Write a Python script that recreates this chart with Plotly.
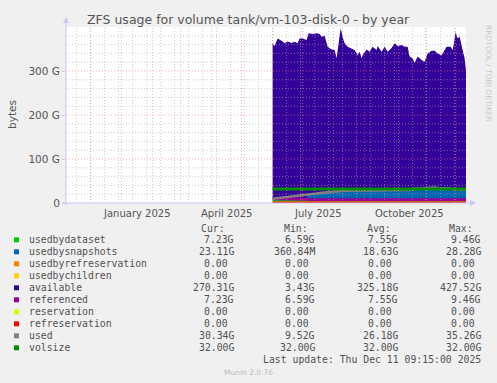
import plotly.graph_objects as go
import pandas as pd

# ---------------- data (values in G) ----------------
dates = ["2025-06-01", "2025-06-03", "2025-06-06", "2025-06-10", "2025-06-13", "2025-06-16",
         "2025-06-20", "2025-06-23", "2025-06-26", "2025-06-28", "2025-07-01", "2025-07-05",
         "2025-07-07", "2025-07-11", "2025-07-15", "2025-07-18", "2025-07-20", "2025-07-23",
         "2025-07-26", "2025-07-30", "2025-08-02", "2025-08-04", "2025-08-06", "2025-08-08",
         "2025-08-10", "2025-08-12", "2025-08-15", "2025-08-19", "2025-08-22", "2025-08-25",
         "2025-08-27", "2025-08-29", "2025-08-30", "2025-09-03", "2025-09-06", "2025-09-09",
         "2025-09-13", "2025-09-14", "2025-09-18", "2025-09-21", "2025-09-24", "2025-09-28",
         "2025-10-01", "2025-10-04", "2025-10-08", "2025-10-11", "2025-10-14", "2025-10-16",
         "2025-10-19", "2025-10-21", "2025-10-24", "2025-10-28", "2025-10-31", "2025-11-03",
         "2025-11-07", "2025-11-10", "2025-11-13", "2025-11-17", "2025-11-22", "2025-11-26",
         "2025-11-28", "2025-11-29", "2025-12-01", "2025-12-03", "2025-12-05", "2025-12-08",
         "2025-12-10", "2025-12-11 09:15"]

usedbydataset = [9.4, 9.4, 9.3, 9.3, 9.2, 9.2, 9.1, 9.0, 9.0, 8.9, 8.8, 8.7,
                 7.5, 7.5, 7.5, 7.5, 7.5, 7.5, 7.5, 7.5, 7.5, 7.5, 7.5, 7.5,
                 7.5, 7.5, 7.5, 7.5, 7.5, 7.5, 7.5, 7.5, 7.5, 7.5, 7.5, 7.5,
                 7.5, 7.5, 7.5, 7.5, 7.5, 7.5, 7.5, 7.5, 7.5, 7.5, 7.5, 7.5,
                 7.5, 7.5, 7.5, 7.5, 7.5, 7.5, 7.5, 7.5, 7.5, 7.5, 7.5, 7.5,
                 7.5, 7.5, 7.3, 7.3, 7.2, 7.2, 7.2, 7.23]

usedbysnapshots = [0.4, 0.4, 0.5, 0.5, 0.6, 0.6, 0.7, 0.7, 0.8, 0.8, 0.9, 0.9,
                   12, 13, 14, 15, 15.5, 16.5, 17.5, 18.5, 19, 19.5, 19.5, 20,
                   20, 20.5, 20.5, 20.5, 20.5, 20.5, 20.5, 20.5, 20.5, 21, 21, 21,
                   21, 21, 21, 21, 21, 21.5, 21.5, 21.5, 21.5, 21.5, 21.5, 22,
                   22.5, 25.5, 25.5, 26, 26, 26.5, 27.5, 28, 26.5, 26, 25.5, 25.5,
                   23.5, 23.5, 23, 23, 23, 23, 23.1, 23.11]

usedbyrefreservation = [0.0] * 68
usedbychildren = [0.0] * 68

available = [353, 347, 364, 359, 353, 357, 354, 357, 353, 364, 364, 361,
             366.5, 363.5, 364.5, 361.5, 355, 356, 330, 323, 321.5, 302, 336, 369.5,
             350.5, 335, 327, 324, 320, 308, 316, 301, 308, 320.5, 315.5, 326.5,
             319.5, 328.5, 315.5, 326.5, 315.5, 323, 334, 328, 330, 326, 326, 303.5,
             299, 285, 300, 291.5, 287.5, 306, 311, 310.5, 306, 302.5, 322, 322,
             317, 328, 358.5, 343.5, 347.5, 317.5, 298.4, 270.31]

referenced = [9.4, 9.4, 9.3, 9.3, 9.2, 9.2, 9.1, 9.0, 9.0, 8.9, 8.8, 8.7,
              7.5, 7.5, 7.5, 7.5, 7.5, 7.5, 7.5, 7.5, 7.5, 7.5, 7.5, 7.5,
              7.5, 7.5, 7.5, 7.5, 7.5, 7.5, 7.5, 7.5, 7.5, 7.5, 7.5, 7.5,
              7.5, 7.5, 7.5, 7.5, 7.5, 7.5, 7.5, 7.5, 7.5, 7.5, 7.5, 7.5,
              7.5, 7.5, 7.5, 7.5, 7.5, 7.5, 7.5, 7.5, 7.5, 7.5, 7.5, 7.5,
              7.5, 7.5, 7.3, 7.3, 7.2, 7.2, 7.2, 7.23]

reservation = [0.0] * 68
refreservation = [0.0] * 68

used = [9.5, 10, 10.5, 11.5, 12, 13, 14, 15, 16, 16.5, 17.5, 18.5,
        19.5, 20.5, 21.5, 22.5, 23, 24, 25, 26, 26.5, 27, 27, 27.5,
        27.5, 28, 28, 28, 28, 28, 28, 28, 28, 28.5, 28.5, 28.5,
        28.5, 28.5, 28.5, 28.5, 28.5, 29, 29, 29, 29, 29, 29, 29.5,
        30, 33, 33, 33.5, 33.5, 34, 35, 35.3, 34, 33.5, 33, 33,
        31, 31, 30.5, 30.5, 30.5, 30.3, 30.3, 30.34]

volsize = [32.0] * 68

y_tick_vals = [0, 100, 200, 300]
y_tick_text = ["0", "100 G", "200 G", "300 G"]
x_label_dates = ["2025-01-16", "2025-04-16", "2025-07-16", "2025-10-16"]
x_label_text = ["January 2025", "April 2025", "July 2025", "October 2025"]

legend_names = ["usedbydataset", "usedbysnapshots", "usedbyrefreservation", "usedbychildren",
                "available", "referenced", "reservation", "refreservation", "used", "volsize"]
legend_colors = ["#00CC00", "#0066B3", "#FF8000", "#FFCC00", "#330099",
                 "#990099", "#CCFF00", "#FF0000", "#808080", "#008F00"]
leg_cur = ["7.23G", "23.11G", "0.00", "0.00", "270.31G", "7.23G", "0.00", "0.00", "30.34G", "32.00G"]
leg_min = ["6.59G", "360.84M", "0.00", "0.00", "3.43G", "6.59G", "0.00", "0.00", "9.52G", "32.00G"]
leg_avg = ["7.55G", "18.63G", "0.00", "0.00", "325.18G", "7.55G", "0.00", "0.00", "26.18G", "32.00G"]
leg_max = ["9.46G", "28.28G", "0.00", "0.00", "427.52G", "9.46G", "0.00", "0.00", "35.26G", "32.00G"]

# ---------------- geometry helpers ----------------
W, H = 497, 383
L, R, T, B = 66, 466, 27, 203
x_start = pd.Timestamp("2024-11-06 09:15")
x_end = pd.Timestamp("2025-12-11 09:15")


def px(xpix):
    return (xpix - L) / (R - L)


def py(ypix):
    return (B - ypix) / (B - T)


fig = go.Figure()

# stacked areas
for name, vals, col in [("usedbydataset", usedbydataset, "#00CC00"),
                        ("usedbysnapshots", usedbysnapshots, "#0066B3"),
                        ("usedbyrefreservation", usedbyrefreservation, "#FF8000"),
                        ("usedbychildren", usedbychildren, "#FFCC00"),
                        ("available", available, "#330099")]:
    fig.add_trace(go.Scatter(x=dates, y=vals, name=name, mode="lines", stackgroup="s",
                             line=dict(width=0, color=col), fillcolor=col, hoverinfo="skip"))

# lines
for name, vals, col, w in [("referenced", referenced, "#990099", 3),
                           ("reservation", reservation, "#CCFF00", 3),
                           ("refreservation", refreservation, "#FF0000", 3),
                           ("used", used, "#808080", 2.5),
                           ("volsize", volsize, "#008F00", 3)]:
    fig.add_trace(go.Scatter(x=dates, y=vals, name=name, mode="lines",
                             line=dict(width=w, color=col), hoverinfo="skip"))

shapes = []
gray = "rgba(170,170,170,0.6)"
red = "rgba(255,110,110,0.55)"
# horizontal grid
for v in range(20, 400, 20):
    shapes.append(dict(type="line", xref="paper", yref="y", x0=0, x1=1, y0=v, y1=v,
                       line=dict(color=red if v % 100 == 0 else gray, width=1, dash="1px,2px"),
                       layer="above"))
# vertical grid: biweekly minor, monthly major
for d in pd.date_range("2024-11-17", "2025-12-11", freq="14D"):
    shapes.append(dict(type="line", xref="x", yref="paper", x0=d, x1=d, y0=0, y1=1,
                       line=dict(color=gray, width=1, dash="1px,2px"), layer="above"))
for d in pd.date_range("2024-12-01", "2025-12-01", freq="MS"):
    shapes.append(dict(type="line", xref="x", yref="paper", x0=d, x1=d, y0=0, y1=1,
                       line=dict(color=red, width=1, dash="1px,2px"), layer="above"))

axis_col = "#C8C8F0"
# axes lines with arrows
shapes.append(dict(type="line", xref="paper", yref="paper", x0=px(L), x1=px(L), y0=py(B + 2), y1=py(T - 5),
                   line=dict(color=axis_col, width=1), layer="above"))
shapes.append(dict(type="line", xref="paper", yref="paper", x0=px(L - 4), x1=px(R + 6), y0=py(B), y1=py(B),
                   line=dict(color=axis_col, width=1), layer="above"))
shapes.append(dict(type="path", xref="paper", yref="paper",
                   path=f"M {px(L-3)} {py(T-4)} L {px(L+3)} {py(T-4)} L {px(L)} {py(T-10)} Z",
                   fillcolor=axis_col, line=dict(width=0), layer="above"))
shapes.append(dict(type="path", xref="paper", yref="paper",
                   path=f"M {px(R+4)} {py(B-3)} L {px(R+4)} {py(B+3)} L {px(R+10)} {py(B)} Z",
                   fillcolor=axis_col, line=dict(width=0), layer="above"))

annotations = []
txt_col = "#555555"
# title
annotations.append(dict(text="ZFS usage for volume tank/vm-103-disk-0 - by year", x=px(248.5), y=py(19),
                        xref="paper", yref="paper", showarrow=False, xanchor="center", yanchor="middle",
                        font=dict(family="DejaVu Sans", size=12.5, color=txt_col)))
# y label
annotations.append(dict(text="bytes", x=px(12), y=py(115), xref="paper", yref="paper", showarrow=False,
                        textangle=-90, xanchor="center", yanchor="middle",
                        font=dict(family="DejaVu Sans", size=10.5, color=txt_col)))
# x labels
for d, t in zip(x_label_dates, x_label_text):
    annotations.append(dict(text=t, x=d, y=py(213), xref="x", yref="paper", showarrow=False,
                            xanchor="center", yanchor="middle",
                            font=dict(family="DejaVu Sans", size=10, color=txt_col)))
# watermark
annotations.append(dict(text="RRDTOOL / TOBI OETIKER", x=px(488.5), y=py(23), xref="paper", yref="paper",
                        showarrow=False, textangle=90, xanchor="center", yanchor="top",
                        font=dict(family="DejaVu Sans", size=7.5, color="#C8C8C8")))

mono = "DejaVu Sans Mono"
fs = 9.8
leg_col = "#505050"
# legend header
for t, xl in [("Cur:", 199), ("Min:", 281.5), ("Avg:", 364.5), ("Max:", 446.5)]:
    annotations.append(dict(text=t, x=px(xl), y=py(228.5), xref="paper", yref="paper", showarrow=False,
                            xanchor="left", yanchor="middle", font=dict(family=mono, size=fs, color=leg_col)))

nb = "\u00a0"
for i, name in enumerate(legend_names):
    yrow = 239.8 + 12 * i
    shapes.append(dict(type="rect", xref="paper", yref="paper", x0=px(14), x1=px(19),
                       y0=py(yrow - 2.5), y1=py(yrow + 2.5), fillcolor=legend_colors[i],
                       line=dict(width=0), layer="above"))
    annotations.append(dict(text=name, x=px(26.5), y=py(yrow), xref="paper", yref="paper", showarrow=False,
                            xanchor="left", yanchor="middle", font=dict(family=mono, size=fs, color=leg_col)))
    for vals, xr in [(leg_cur, 235.5), (leg_min, 317), (leg_avg, 400), (leg_max, 483)]:
        v = vals[i]
        if not v[-1].isalpha():
            v = v + nb
        annotations.append(dict(text=v, x=px(xr), y=py(yrow), xref="paper", yref="paper", showarrow=False,
                                xanchor="right", yanchor="middle",
                                font=dict(family=mono, size=fs, color=leg_col)))

annotations.append(dict(text="Last update: Thu Dec 11 09:15:00 2025", x=px(483), y=py(359.5), xref="paper",
                        yref="paper", showarrow=False, xanchor="right", yanchor="middle",
                        font=dict(family=mono, size=fs, color=leg_col)))
annotations.append(dict(text="Munin 2.0.76", x=px(248), y=py(372.5), xref="paper", yref="paper",
                        showarrow=False, xanchor="center", yanchor="middle",
                        font=dict(family="DejaVu Sans", size=7.5, color="#BBBBBB")))

fig.update_layout(
    width=W, height=H,
    margin=dict(l=L, r=W - R, t=T, b=H - B, pad=0),
    paper_bgcolor="#F0F0F0", plot_bgcolor="#FFFFFF",
    showlegend=False,
    xaxis=dict(type="date", range=[x_start, x_end], showgrid=False, zeroline=False,
               showticklabels=False, showline=False, ticks=""),
    yaxis=dict(range=[0, 400], tickvals=y_tick_vals, ticktext=y_tick_text, showgrid=False,
               zeroline=False, showline=False, ticks="outside", ticklen=3, tickcolor=axis_col,
               tickfont=dict(family="DejaVu Sans", size=10.5, color=txt_col)),
    shapes=shapes, annotations=annotations,
)

fig.write_html("out.html")
